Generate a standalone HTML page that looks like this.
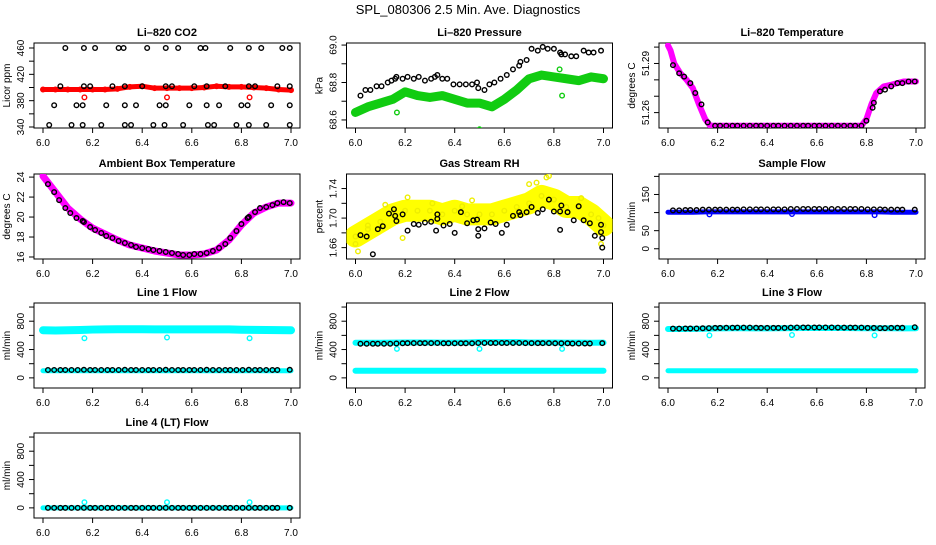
<!DOCTYPE html>
<html><head><meta charset="utf-8"><style>
body{margin:0;background:#fff}
svg text{font-family:"Liberation Sans",sans-serif}
</style></head><body>
<svg id="c" width="936" height="540" viewBox="0 0 936 540" xmlns="http://www.w3.org/2000/svg">
<text x="468" y="14" text-anchor="middle" font-size="13">SPL_080306  2.5 Min. Ave. Diagnostics</text>
</svg>
<script>
// shared time grids
const tBand = [6.0,6.05,6.1,6.15,6.2,6.25,6.3,6.35,6.4,6.45,6.5,6.55,6.6,6.65,6.7,6.75,6.8,6.85,6.9,6.95,7.0];
const tBlk = [6.02,6.045,6.07,6.09,6.115,6.14,6.165,6.19,6.21,6.235,6.26,6.28,6.305,6.33,6.355,6.375,6.4,6.425,6.445,6.47,6.495,6.52,6.545,6.565,6.59,6.61,6.635,6.66,6.685,6.71,6.735,6.755,6.78,6.805,6.83,6.855,6.875,6.9,6.925,6.945,6.995];
const tOut = [6.167,6.5,6.833];
const xTicks = [6.0,6.2,6.4,6.6,6.8,7.0];
const xTickLabels = ["6.0","6.2","6.4","6.6","6.8","7.0"];

// CO2
const co2Band = [397,397,397,397,397,397,398,401,402,399,399,399,399,400,402,401,401,400,399,397,396];
const co2Out = [385,385,385];
const co2BlkT = [6.09,6.165,6.21,6.305,6.325,6.42,6.495,6.545,6.635,6.655,6.755,6.83,6.88,6.965,6.995,
 6.07,6.165,6.19,6.28,6.33,6.4,6.495,6.52,6.61,6.66,6.735,6.83,6.855,6.945,6.995,
 6.045,6.135,6.16,6.255,6.33,6.375,6.47,6.495,6.59,6.66,6.71,6.8,6.825,6.92,6.995,
 6.025,6.115,6.16,6.235,6.33,6.355,6.445,6.49,6.565,6.665,6.69,6.78,6.83,6.9,6.995];
const co2BlkV = [460,460,460,460,460,460,460,460,460,460,460,460,460,460,460,
 402,402,402,402,402,402,402,402,402,402,402,402,402,402,402,
 373,373,373,373,373,373,373,373,373,373,373,373,373,373,373,
 343,343,343,343,343,343,343,343,343,343,343,343,343,343,343];

// Pressure
const prBand = [68.64,68.67,68.69,68.71,68.75,68.73,68.72,68.73,68.71,68.69,68.69,68.67,68.71,68.76,68.82,68.84,68.83,68.82,68.81,68.83,68.82];
const prOutT = [6.167,6.5,6.833,6.823];
const prOutV = [68.64,68.55,68.73,68.87];
const prBlkT = [6.02,6.04,6.06,6.085,6.105,6.13,6.145,6.16,6.165,6.19,6.21,6.235,6.255,6.28,6.305,6.32,6.33,6.35,6.37,6.395,6.42,6.445,6.47,6.49,6.495,6.52,6.54,6.56,6.585,6.61,6.635,6.66,6.665,6.69,6.71,6.735,6.755,6.775,6.8,6.825,6.83,6.845,6.87,6.89,6.92,6.94,6.96,6.99];
const prBlkV = [68.73,68.76,68.76,68.78,68.78,68.80,68.81,68.82,68.83,68.82,68.83,68.82,68.83,68.81,68.82,68.83,68.84,68.82,68.82,68.79,68.79,68.79,68.79,68.80,68.77,68.76,68.79,68.80,68.82,68.84,68.87,68.89,68.91,68.92,68.98,68.97,68.99,68.98,68.98,68.96,68.95,68.95,68.94,68.94,68.97,68.96,68.96,68.97];

// Li-820 temperature
const ltT = [6.0,6.01,6.025,6.05,6.075,6.1,6.125,6.15,6.17,6.2,6.4,6.6,6.78,6.8,6.82,6.84,6.87,6.9,6.95,7.0];
const ltV = [51.301,51.298,51.290,51.284,51.280,51.275,51.265,51.256,51.252,51.252,51.252,51.252,51.252,51.256,51.265,51.272,51.276,51.277,51.279,51.279];
const ltBlkT = [6.02,6.045,6.065,6.09,6.11,6.135,6.16,6.19,6.21,6.235,6.26,6.28,6.305,6.33,6.355,6.375,6.4,6.425,6.445,6.47,6.495,6.52,6.545,6.565,6.59,6.61,6.635,6.66,6.685,6.71,6.735,6.755,6.78,6.8,6.825,6.83,6.855,6.875,6.9,6.925,6.945,6.97,6.995];
const ltBlkV = [51.289,51.284,51.282,51.278,51.272,51.265,51.254,51.252,51.252,51.252,51.252,51.252,51.252,51.252,51.252,51.252,51.252,51.252,51.252,51.252,51.252,51.252,51.252,51.252,51.252,51.252,51.252,51.252,51.252,51.252,51.252,51.252,51.252,51.255,51.263,51.266,51.273,51.274,51.276,51.278,51.278,51.279,51.279];

// Ambient box temperature
const abBand = [24.1,22.5,20.9,19.8,18.9,18.3,17.7,17.2,16.9,16.6,16.4,16.2,16.2,16.3,16.7,17.7,19.2,20.4,21.0,21.4,21.4];
const abBlkT = [6.02,6.045,6.065,6.09,6.11,6.135,6.16,6.165,6.19,6.21,6.235,6.255,6.28,6.305,6.33,6.355,6.375,6.4,6.425,6.445,6.47,6.495,6.52,6.545,6.565,6.59,6.61,6.635,6.66,6.685,6.71,6.735,6.755,6.78,6.8,6.825,6.83,6.855,6.875,6.9,6.925,6.945,6.97,6.995];
const abBlkV = [23.3,22.5,21.7,20.9,20.4,19.9,19.6,19.5,19.0,18.7,18.4,18.1,17.9,17.6,17.4,17.2,17.0,16.9,16.8,16.7,16.6,16.5,16.4,16.3,16.2,16.2,16.3,16.3,16.4,16.6,16.9,17.3,17.9,18.6,19.3,19.9,20.0,20.5,20.9,21.0,21.2,21.4,21.5,21.4];

// Gas stream RH
const rhBand = [1.675,1.685,1.695,1.705,1.71,1.71,1.71,1.705,1.71,1.705,1.705,1.705,1.71,1.715,1.72,1.73,1.725,1.715,1.715,1.705,1.69];
const rhYelT = [6.0,6.01,6.05,6.12,6.19,6.21,6.31,6.43,6.47,6.7,6.73,6.77,6.78,6.91,6.98,6.99];
const rhYelV = [1.665,1.655,1.69,1.718,1.673,1.728,1.72,1.716,1.724,1.746,1.748,1.755,1.757,1.727,1.70,1.665];
const rhBlkT = [6.02,6.045,6.07,6.09,6.11,6.135,6.155,6.16,6.165,6.19,6.21,6.235,6.255,6.28,6.305,6.325,6.33,6.33,6.355,6.38,6.4,6.425,6.45,6.475,6.49,6.495,6.495,6.52,6.545,6.565,6.59,6.61,6.635,6.66,6.665,6.69,6.71,6.735,6.755,6.78,6.8,6.825,6.825,6.83,6.855,6.88,6.9,6.92,6.945,6.965,6.99,6.99,6.995,6.995];
const rhBlkV = [1.677,1.675,1.651,1.685,1.689,1.706,1.712,1.703,1.696,1.705,1.683,1.692,1.691,1.694,1.695,1.683,1.705,1.699,1.690,1.692,1.680,1.708,1.693,1.697,1.698,1.685,1.676,1.686,1.694,1.692,1.680,1.691,1.703,1.708,1.704,1.708,1.715,1.707,1.712,1.725,1.709,1.709,1.684,1.717,1.708,1.697,1.716,1.697,1.693,1.676,1.691,1.681,1.673,1.660];

// Sample flow
const sfBand = [101,101,101,102,102,102,102,102,102,102,102,102,102,102,102,102,102,102,101,101,101];
const sfOut = [95,96,93];
const sfBlk = [106,106,107,107,107,108,108,108,108,108,108,108,109,109,109,109,109,109,109,109,110,110,110,110,110,110,110,110,110,110,110,110,110,109,109,109,108,108,108,108,108];

// Line 1 flow
const l1Top = [672,668,672,676,682,684,686,686,686,684,684,684,684,684,684,684,680,678,676,674,672];
const l1Low = [100,100,100,100,100,100,100,100,100,100,100,100,100,100,100,100,100,100,100,100,100];
const l1Out = [560,570,560];
const l1Blk = [112,112,112,112,112,112,114,112,112,112,112,112,112,114,112,112,112,112,112,112,114,112,112,112,112,112,112,114,112,112,112,112,112,112,114,112,112,112,112,112,114];

// Line 2 flow
const l2Top = [495,495,495,497,500,500,500,497,497,500,505,505,505,505,500,500,500,497,497,495,497];
const l2Low = [100,100,100,100,100,100,100,100,100,100,100,100,100,100,100,100,100,100,100,100,100];
const l2Out = [410,410,410];
const l2Blk = [482,482,482,482,482,482,485,488,490,490,490,490,490,492,488,488,488,488,488,488,492,492,492,492,492,492,492,492,490,490,490,490,490,488,488,488,485,485,485,485,490];

// Line 3 flow
const l3Top = [690,690,692,694,698,700,700,698,698,700,702,704,704,704,704,702,700,700,700,698,700];
const l3Low = [100,100,100,100,100,100,100,100,100,100,100,100,100,100,100,100,100,100,100,100,100];
const l3Out = [600,605,600];
const l3Blk = [695,695,697,697,697,700,702,705,705,707,708,710,710,710,707,705,705,705,705,705,710,712,712,712,712,712,712,712,710,710,710,710,710,705,705,703,703,705,707,707,715];

// Line 4 flow
const l4Top = [0,0,0,0,0,0,0,0,0,0,0,0,0,0,0,0,0,0,0,0,0];
const l4Out = [80,80,80];
const l4Blk = [0,0,0,0,0,0,0,0,0,0,0,0,0,0,0,0,0,0,0,0,0,0,0,0,0,0,0,0,0,0,0,0,0,0,0,0,0,0,0,0,0];

const svg = document.getElementById('c');
const NS = 'http://www.w3.org/2000/svg';
function mk(tag, attrs, parent){
  const e = document.createElementNS(NS, tag);
  for (const k in attrs) e.setAttribute(k, attrs[k]);
  (parent||svg).appendChild(e);
  return e;
}
const colOff = [0, 312.5, 625];
const rowTop = [43, 174, 303, 433];
const BH = 85;

function panel(row, col, title, ylabel, ylim, yticks, ylabels, key){
  const off = colOff[col], top = rowTop[row], bot = top + BH;
  const left = 34 + off, right = 300 + off;
  const g = mk('g', {});
  
  
  const xs = t => 43 + off + (t - 6) * 248;
  const ys = v => bot - (v - ylim[0]) / (ylim[1] - ylim[0]) * BH;
  const box = mk('rect', {x:left, y:top, width:right-left, height:BH, fill:'none', stroke:'#000', 'stroke-width':1}, g);
  
  
  const tt = mk('text', {x:(left+right)/2, y:top-7, 'text-anchor':'middle', 'font-size':11, 'font-weight':'bold'}, g);
  tt.textContent = title;
  
  
  const xa = mk('g', {}, g);
  
  
  xTicks.forEach((t, i) => {
    mk('line', {x1:xs(t), x2:xs(t), y1:bot, y2:bot+5, stroke:'#000'}, xa);
    const l = mk('text', {x:xs(t), y:bot+18, 'text-anchor':'middle', 'font-size':10}, xa);
    l.textContent = xTickLabels[i];
  });
  const ya = mk('g', {}, g);
  
  
  yticks.forEach((v, i) => {
    mk('line', {x1:left, x2:left-5, y1:ys(v), y2:ys(v), stroke:'#000'}, ya);
    if (ylabels[i]) {
      const l = mk('text', {x:left-10, y:ys(v), 'text-anchor':'middle', 'font-size':10, transform:`rotate(-90 ${left-10} ${ys(v)})`}, ya);
      l.textContent = ylabels[i];
    }
  });
  const yl = mk('text', {x:left-24, y:(top+bot)/2, 'text-anchor':'middle', 'font-size':10, transform:`rotate(-90 ${left-24} ${(top+bot)/2})`}, g);
  yl.textContent = ylabel;
  
  
  const clip = mk('clipPath', {id:'clip-'+key}, g);
  mk('rect', {x:left, y:top, width:right-left, height:BH}, clip);
  const data = mk('g', {'clip-path':`url(#clip-${key})`}, g);
  
  
  return {
    band(ts, vs, color, w, name){
      const p = mk('polyline', {points: ts.map((t,i)=>xs(t)+','+ys(vs[i])).join(' '), fill:'none', stroke:color, 'stroke-width':w, 'stroke-linejoin':'round', 'stroke-linecap':'round'}, data);
      
      
    },
    pts(ts, vs, color, name){
      const gg = mk('g', {}, data);
      
      
      ts.forEach((t, i) => {
        mk('circle', {cx:xs(t), cy:ys(vs[i]), r:2.3, fill:'none', stroke:color, 'stroke-width':1.4}, gg);
      });
    }
  };
}
const flowTicks = [0,200,400,600,800,1000];
const flowLabels = ["0","","400","","800",""];
const flowLim = [-143, 1057];

let p = panel(0,0,'Li–820 CO2','Licor ppm',[338.5,467.6],[340,360,380,400,420,440,460],["340","","380","","420","","460"],'co2');
p.band(tBand, co2Band, '#f00', 5, 'co2-series');
p.pts(tBand, co2Band, '#f00', 'co2-points');
p.pts(tOut, co2Out, '#f00', 'co2-outliers');
p.pts(co2BlkT, co2BlkV, '#000', 'co2-reference-points');

p = panel(0,1,'Li–820 Pressure','kPa',[68.557,69.011],[68.6,68.7,68.8,68.9,69.0],["68.6","","68.8","","69.0"],'pressure');
p.band(tBand, prBand, '#1c1', 9, 'pressure-series');
p.pts(tBand, prBand, '#1c1', 'pressure-points');
p.pts(prOutT, prOutV, '#1c1', 'pressure-outliers');
p.pts(prBlkT, prBlkV, '#000', 'pressure-reference-points');

p = panel(0,2,'Li–820 Temperature','degrees C',[51.2506,51.3025],[51.26,51.27,51.28,51.29,51.30],["51.26","","","51.29",""],'li-temp');
p.band(ltT, ltV, '#f0f', 6, 'li-temp-series');
p.pts(ltBlkT, ltBlkV, '#000', 'li-temp-reference-points');

p = panel(1,0,'Ambient Box Temperature','degrees C',[15.8,24.31],[16,18,20,22,24],["16","18","20","22","24"],'ambient');
p.band(tBand, abBand, '#f0f', 7, 'ambient-series');
p.pts(abBlkT, abBlkV, '#000', 'ambient-reference-points');

p = panel(1,1,'Gas Stream RH','percent',[1.6446,1.7597],[1.66,1.68,1.70,1.72,1.74],["1.66","","1.70","","1.74"],'rh');
p.band(tBand, rhBand, '#ff0', 22, 'rh-series');
p.pts(tBand, rhBand, '#ee0', 'rh-points');
p.pts(rhYelT, rhYelV, '#ee0', 'rh-scatter');
p.pts(rhBlkT, rhBlkV, '#000', 'rh-reference-points');

p = panel(1,2,'Sample Flow','ml/min',[-28.3,206.6],[0,50,100,150,200],["0","50","","150",""],'sample-flow');
p.band(tBand, sfBand, '#00f', 5, 'sample-flow-series');
p.pts(tOut, sfOut, '#00f', 'sample-flow-outliers');
p.pts(tBlk, sfBlk, '#000', 'sample-flow-reference-points');

p = panel(2,0,'Line 1 Flow','ml/min',flowLim,flowTicks,flowLabels,'line1');
p.band(tBand, l1Top, '#0ff', 8, 'line1-series');
p.band(tBand, l1Low, '#0ff', 5, 'line1-low-series');
p.pts(tOut, l1Out, '#0ff', 'line1-outliers');
p.pts(tBlk, l1Blk, '#000', 'line1-reference-points');

p = panel(2,1,'Line 2 Flow','ml/min',flowLim,flowTicks,flowLabels,'line2');
p.band(tBand, l2Top, '#0ff', 6, 'line2-series');
p.band(tBand, l2Low, '#0ff', 6, 'line2-low-series');
p.pts(tOut, l2Out, '#0ff', 'line2-outliers');
p.pts(tBlk, l2Blk, '#000', 'line2-reference-points');

p = panel(2,2,'Line 3 Flow','ml/min',flowLim,flowTicks,flowLabels,'line3');
p.band(tBand, l3Top, '#0ff', 6, 'line3-series');
p.band(tBand, l3Low, '#0ff', 5, 'line3-low-series');
p.pts(tOut, l3Out, '#0ff', 'line3-outliers');
p.pts(tBlk, l3Blk, '#000', 'line3-reference-points');

p = panel(3,0,'Line 4 (LT) Flow','ml/min',flowLim,flowTicks,flowLabels,'line4');
p.band(tBand, l4Top, '#0ff', 5, 'line4-series');
p.pts(tOut, l4Out, '#0ff', 'line4-outliers');
p.pts(tBlk, l4Blk, '#000', 'line4-reference-points');
</script>
</body></html>
